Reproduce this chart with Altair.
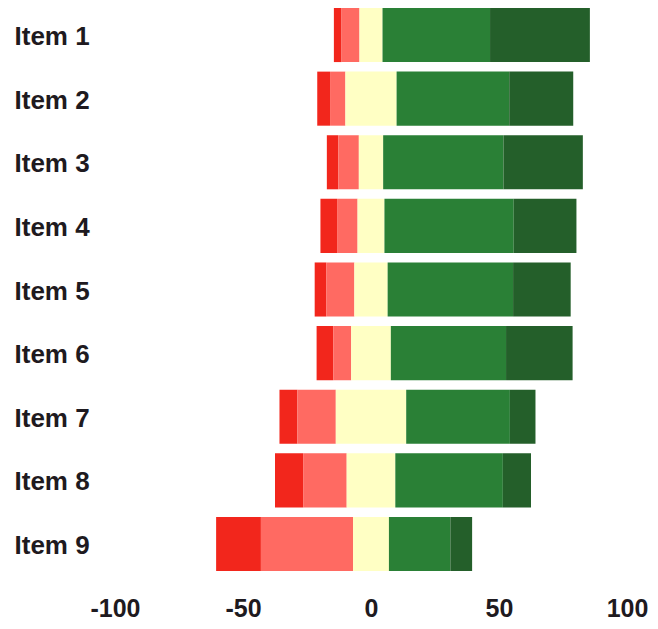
import altair as alt
import pandas as pd

items = ["Item 1", "Item 2", "Item 3", "Item 4", "Item 5", "Item 6", "Item 7", "Item 8", "Item 9"]
categories = ["Strongly disagree", "Disagree", "Neutral", "Agree", "Strongly agree"]
strongly_disagree = [3, 5, 4.5, 6.5, 4.5, 6.5, 7, 11, 17.5]
disagree = [7, 6, 8, 8, 11, 7, 15, 17, 36]
neutral = [9, 20, 9.5, 10.5, 13, 15.5, 27.5, 19, 14]
agree = [42, 44, 47, 50.5, 49, 45, 40.5, 42, 24]
strongly_agree = [39, 25, 31, 24.5, 22.5, 26, 10, 11, 8.5]
colors = ["#f2261c", "#ff6a62", "#ffffc4", "#2a8036", "#245f2a"]
x_ticks = [-100, -50, 0, 50, 100]

rows = []
for i, item in enumerate(items):
    vals = [strongly_disagree[i], disagree[i], neutral[i], agree[i], strongly_agree[i]]
    start = -(vals[0] + vals[1] + vals[2] / 2)
    for k, cat in enumerate(categories):
        rows.append({"item": item, "category": cat, "order": k,
                     "start": start, "end": start + vals[k]})
        start += vals[k]
df = pd.DataFrame(rows)

chart = alt.Chart(df).mark_bar().encode(
    y=alt.Y("item:N", sort=items, title=None,
            scale=alt.Scale(paddingInner=0.15, paddingOuter=0),
            axis=alt.Axis(domain=False, ticks=False, labelAlign="left", labelPadding=101,
                          labelOffset=2,
                          labelFontSize=26, labelFont="Liberation Sans", labelFontWeight="bold",
                          labelColor="#1e1a20")),
    x=alt.X("start:Q", title=None,
            scale=alt.Scale(domain=[-100, 100], nice=False),
            axis=alt.Axis(values=x_ticks, domain=False, ticks=False, grid=False, labelPadding=25,
                          labelExpr="'' + datum.value",
                          labelFontSize=25, labelFont="Liberation Sans", labelFontWeight="bold",
                          labelColor="#1e1a20", labelFlush=False)),
    x2="end:Q",
    color=alt.Color("category:N", sort=categories,
                    scale=alt.Scale(domain=categories, range=colors), legend=None),
    order=alt.Order("order:Q"),
).properties(
    width=512, height=563,
    padding={"left": 6, "top": 0, "right": 0, "bottom": 0},
).configure_view(stroke=None)

chart.save("out.html", embed_options={"renderer": "svg", "actions": False})
